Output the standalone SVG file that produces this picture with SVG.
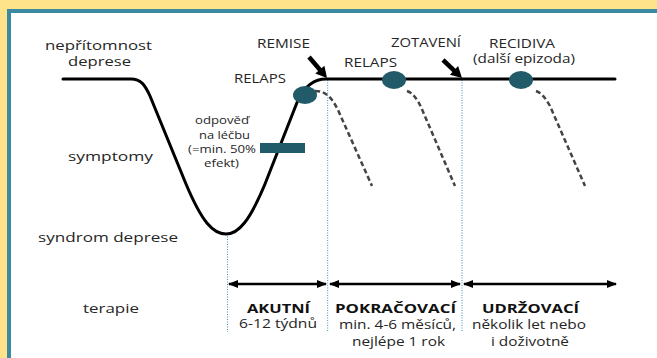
<svg xmlns="http://www.w3.org/2000/svg" width="657" height="358" viewBox="0 0 657 358">
  <defs>
    <style>
      .lbl { font-family: "Open Sans", "Liberation Sans", sans-serif; font-size: 13px; fill: #262626; }
      .sm { font-family: "Open Sans", "Liberation Sans", sans-serif; font-size: 11px; fill: #262626; }
      .b { font-weight: bold; fill: #111; }
      .curve { fill: none; stroke: #000; stroke-width: 3; stroke-linecap: round; stroke-linejoin: round; }
      .relapse { fill: none; stroke: #444; stroke-width: 2.5; stroke-dasharray: 5 3; }
      .guide { stroke: #3d93b3; stroke-width: 1; stroke-dasharray: 1 1.5; }
      .span { stroke: #000; stroke-width: 2.5; marker-start: url(#head); marker-end: url(#head); }
      .dot { fill: #215b6a; }
    </style>
    <marker id="head" viewBox="0 0 10 8" refX="9" refY="4" markerWidth="4" markerHeight="3.2" markerUnits="strokeWidth" orient="auto-start-reverse">
      <path d="M0,0 L10,4 L0,8 Z" fill="#000"/>
    </marker>
  </defs>

  <!-- frame -->
  <rect x="0" y="0" width="657" height="358" fill="#ffe38b"/>
  <rect x="9" y="11" width="700" height="400" fill="#fff" stroke="#3a8ba1" stroke-width="4"/>

  <!-- phase boundaries -->
  <g id="guides">
    <line class="guide" x1="227.5" y1="234" x2="227.5" y2="332"/>
    <line class="guide" x1="327.7" y1="80" x2="327.7" y2="332"/>
    <line class="guide" x1="462" y1="80" x2="462" y2="332"/>
  </g>

  <g id="connectors">
    <!-- course of the episode -->
    <path class="curve" d="M63,79 L131,79 C141,79 145,85 150,96 L186,184 C202,222 213,234 226,234 C239,234 250,220 265,184 L298,100"/>
    <path class="curve" d="M298,100 C304,88 312,79 326,79 L615,79"/>
    <!-- relapse / recurrence trajectories -->
    <path class="relapse" d="M315,91 C326,91 332,98 338,110 L372,186"/>
    <path class="relapse" d="M407,91 C413,93 417,99 421,107 L455,186"/>
    <path class="relapse" d="M536,91 C542,93 546,99 550,106 L585,186"/>
    <!-- remission / recovery pointers -->
    <line x1="309" y1="57" x2="321" y2="71" stroke="#000" stroke-width="4.5"/>
    <polygon points="327,78 315.3,73.5 324.4,65.7" fill="#000"/>
    <line x1="443" y1="60" x2="455.5" y2="71.8" stroke="#000" stroke-width="4.5"/>
    <polygon points="462,78 449.9,74.8 458.1,66" fill="#000"/>
    <!-- treatment phases -->
    <line class="span" x1="229" y1="284" x2="326" y2="284"/>
    <line class="span" x1="330" y1="284" x2="460" y2="284"/>
    <line x1="464" y1="284" x2="616" y2="284" stroke="#000" stroke-width="2.5" marker-start="url(#head)" marker-end="url(#head)"/>
  </g>

  <g id="response-bar"><rect x="260" y="143" width="45" height="10" fill="#215b6a"/></g>
  <g id="node-relapse-1"><ellipse class="dot" cx="305" cy="95" rx="12" ry="9"/></g>
  <g id="node-relapse-2"><ellipse class="dot" cx="394" cy="80" rx="12" ry="9"/></g>
  <g id="node-recurrence"><ellipse class="dot" cx="521" cy="80" rx="12" ry="9"/></g>

  <!-- axis labels -->
  <g id="axis-labels">
    <text class="lbl" x="45" y="50" textLength="107" lengthAdjust="spacingAndGlyphs">nepřítomnost</text>
    <text class="lbl" x="68" y="66" textLength="63" lengthAdjust="spacingAndGlyphs">deprese</text>
    <text class="lbl" x="68" y="161" textLength="85" lengthAdjust="spacingAndGlyphs">symptomy</text>
    <text class="lbl" x="38" y="242" textLength="140" lengthAdjust="spacingAndGlyphs">syndrom deprese</text>
    <text class="lbl" x="83" y="313" textLength="56" lengthAdjust="spacingAndGlyphs">terapie</text>
  </g>

  <!-- event labels -->
  <g id="event-labels">
    <text class="lbl" x="257" y="48" textLength="53" lengthAdjust="spacingAndGlyphs">REMISE</text>
    <text class="lbl" x="234" y="83" textLength="52" lengthAdjust="spacingAndGlyphs">RELAPS</text>
    <text class="lbl" x="344" y="67" textLength="53" lengthAdjust="spacingAndGlyphs">RELAPS</text>
    <text class="lbl" x="391" y="47" textLength="70" lengthAdjust="spacingAndGlyphs">ZOTAVENÍ</text>
    <text class="lbl" x="489" y="48" textLength="66" lengthAdjust="spacingAndGlyphs">RECIDIVA</text>
    <text class="lbl" x="473" y="63" textLength="102" lengthAdjust="spacingAndGlyphs">(další epizoda)</text>
    <text class="sm" x="195" y="124" textLength="54" lengthAdjust="spacingAndGlyphs">odpověď</text>
    <text class="sm" x="199" y="138.5" textLength="51" lengthAdjust="spacingAndGlyphs">na léčbu</text>
    <text class="sm" x="188" y="153" textLength="68" lengthAdjust="spacingAndGlyphs">(=min. 50%</text>
    <text class="sm" x="204" y="167" textLength="35" lengthAdjust="spacingAndGlyphs">efekt)</text>
  </g>

  <!-- phase labels -->
  <g id="phase-acute">
    <text class="lbl b" x="247" y="313" textLength="63" lengthAdjust="spacingAndGlyphs">AKUTNÍ</text>
    <text class="lbl" x="239" y="328" textLength="78" lengthAdjust="spacingAndGlyphs">6-12 týdnů</text>
  </g>
  <g id="phase-continuation">
    <text class="lbl b" x="335" y="313" textLength="121" lengthAdjust="spacingAndGlyphs">POKRAČOVACÍ</text>
    <text class="lbl" x="339" y="329" textLength="117" lengthAdjust="spacingAndGlyphs">min. 4-6 měsíců,</text>
    <text class="lbl" x="352" y="346" textLength="93" lengthAdjust="spacingAndGlyphs">nejlépe 1 rok</text>
  </g>
  <g id="phase-maintenance">
    <text class="lbl b" x="482" y="313" textLength="97" lengthAdjust="spacingAndGlyphs">UDRŽOVACÍ</text>
    <text class="lbl" x="472" y="329" textLength="114" lengthAdjust="spacingAndGlyphs">několik let nebo</text>
    <text class="lbl" x="491" y="346" textLength="78" lengthAdjust="spacingAndGlyphs">i doživotně</text>
  </g>
</svg>
